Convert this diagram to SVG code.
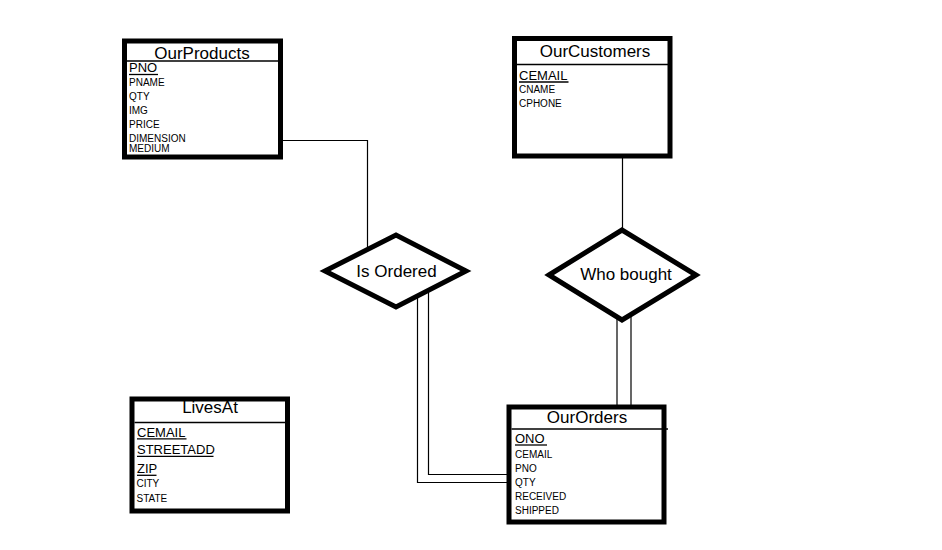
<svg xmlns="http://www.w3.org/2000/svg" width="942" height="550" viewBox="0 0 942 550">
<style>
.box{fill:#fff;stroke:#000;stroke-width:5}
.dia{fill:#fff;stroke:#000;stroke-width:5;stroke-linejoin:miter}
.div{stroke:#000;stroke-width:1.3}
.ul{stroke:#000;stroke-width:1.3}
.con{fill:none;stroke:#000;stroke-width:1.2}
text{font-family:"Liberation Sans",Arial,sans-serif;fill:#000}
.title{font-size:17px;text-anchor:middle}
.key{font-size:13px}
.fld{font-size:10px}
.rel{font-size:17px;text-anchor:middle}
</style>
<rect width="942" height="550" fill="#fff"/>
<g id="connectors">
<polyline class="con" points="281,140.5 367.5,140.5 367.5,249"/>
<polyline class="con" points="417.5,296 417.5,482.5 508,482.5"/>
<polyline class="con" points="428.5,290.5 428.5,474.5 508,474.5"/>
<line class="con" x1="622.5" y1="157" x2="622.5" y2="232"/>
<line class="con" x1="617" y1="316" x2="617" y2="406"/>
<line class="con" x1="631" y1="314" x2="631" y2="406"/>
</g>
<g id="OurProducts">
<rect class="box" x="124.5" y="41" width="156" height="116"/>
<line class="div" x1="127" y1="61" x2="278" y2="61"/>
<text class="title" x="202" y="59">OurProducts</text>
<text class="key" x="129" y="72">PNO</text>
<line class="ul" x1="129" y1="74.5" x2="158" y2="74.5"/>
<text class="fld" x="129" y="86">PNAME</text>
<text class="fld" x="129" y="100">QTY</text>
<text class="fld" x="129" y="114">IMG</text>
<text class="fld" x="129" y="128">PRICE</text>
<text class="fld" x="129" y="141.5">DIMENSION</text>
<text class="fld" x="129" y="151.5">MEDIUM</text>
</g>
<g id="OurCustomers">
<rect class="box" x="514.5" y="38.5" width="155.5" height="117.5"/>
<line class="div" x1="517" y1="64.5" x2="668" y2="64.5"/>
<text class="title" x="595" y="57">OurCustomers</text>
<text class="key" x="519" y="79.5">CEMAIL</text>
<line class="ul" x1="519" y1="82" x2="568.5" y2="82"/>
<text class="fld" x="519" y="93">CNAME</text>
<text class="fld" x="519" y="106.5">CPHONE</text>
</g>
<g id="IsOrdered">
<polygon class="dia" points="325,271 396,235 466,271 396,307"/>
<text class="rel" x="396.5" y="277">Is Ordered</text>
</g>
<g id="WhoBought">
<polygon class="dia" points="549,275 622,230 696,275 622,320"/>
<text class="rel" x="626" y="280">Who bought</text>
</g>
<g id="LivesAt">
<rect class="box" x="132" y="399" width="155.5" height="112"/>
<line class="div" x1="134.5" y1="422.5" x2="285" y2="422.5"/>
<text class="title" x="210" y="412.5">LivesAt</text>
<text class="key" x="137" y="436.5">CEMAIL</text>
<line class="ul" x1="137" y1="438.8" x2="186.5" y2="438.8"/>
<text class="key" x="137" y="454">STREETADD</text>
<line class="ul" x1="137" y1="456.3" x2="213.5" y2="456.3"/>
<text class="key" x="137" y="473">ZIP</text>
<line class="ul" x1="137" y1="475.3" x2="156.5" y2="475.3"/>
<text class="fld" x="136.5" y="487">CITY</text>
<text class="fld" x="136.5" y="502">STATE</text>
</g>
<g id="OurOrders">
<rect class="box" x="509" y="407" width="155" height="115"/>
<line class="div" x1="511.5" y1="429" x2="668" y2="429"/>
<text class="title" x="587" y="422.5">OurOrders</text>
<text class="key" x="515" y="442.5">ONO</text>
<line class="ul" x1="515" y1="445" x2="547" y2="445"/>
<text class="fld" x="515" y="457.5">CEMAIL</text>
<text class="fld" x="515" y="471.5">PNO</text>
<text class="fld" x="515" y="485.5">QTY</text>
<text class="fld" x="515" y="499.5">RECEIVED</text>
<text class="fld" x="515" y="513.5">SHIPPED</text>
</g>
</svg>
